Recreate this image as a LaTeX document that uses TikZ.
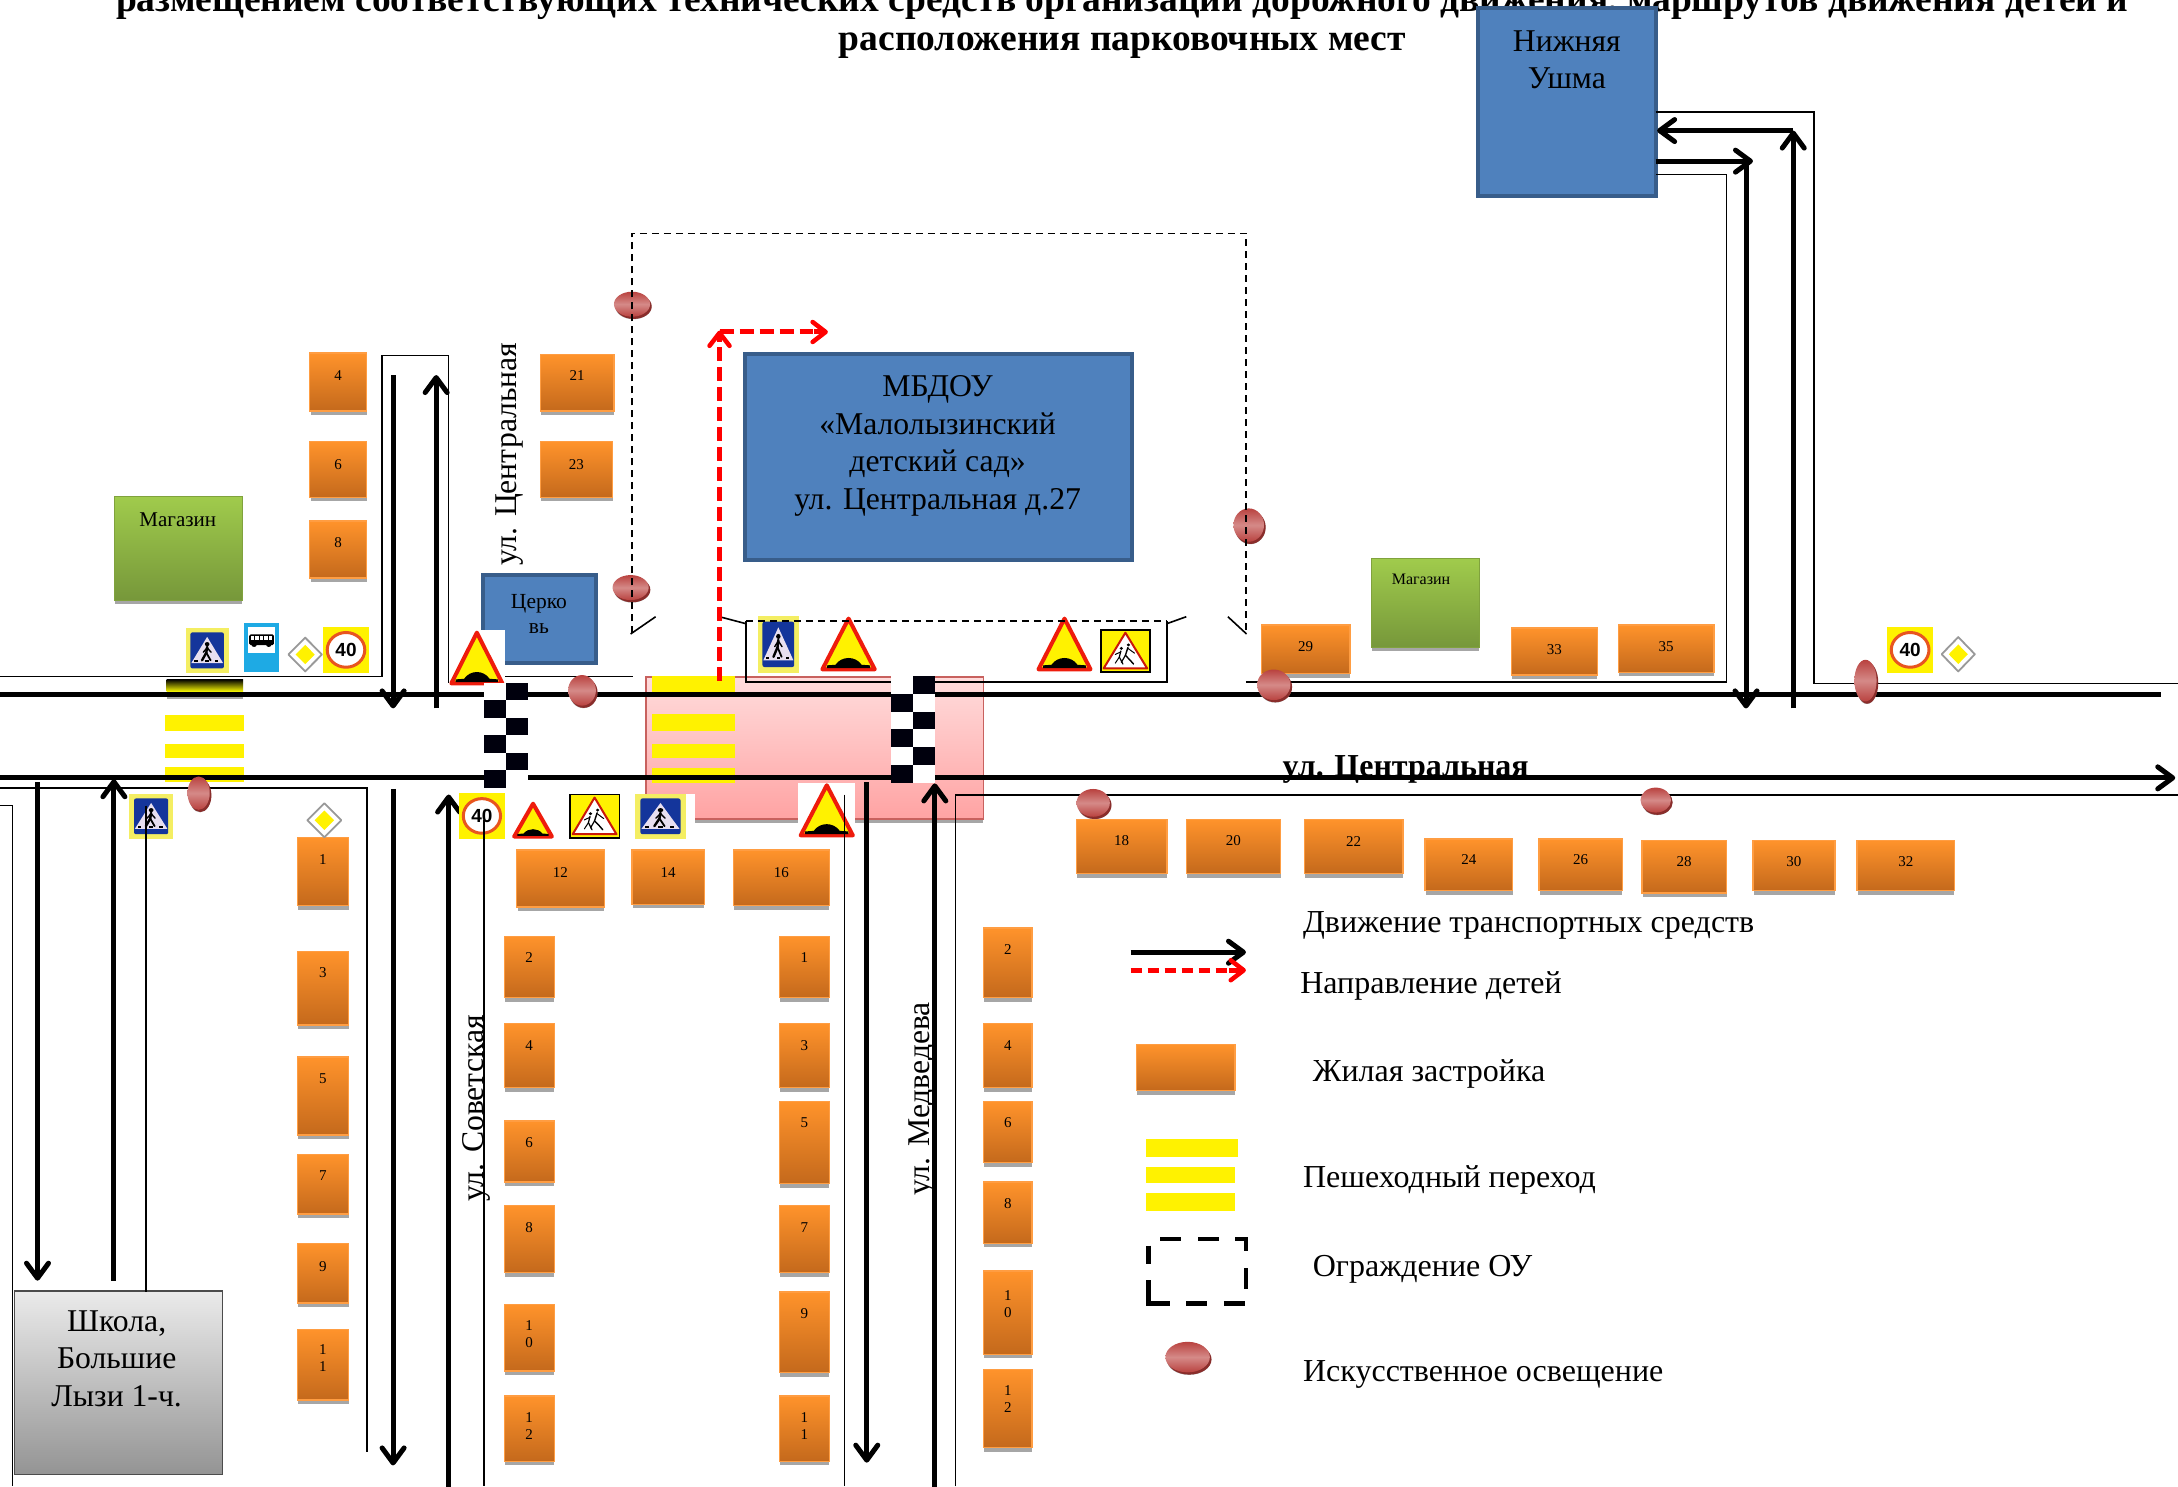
\documentclass[tikz,border=0pt]{standalone}
\usepackage{fontspec}
\setmainfont{Liberation Serif}
\newfontfamily\signfont{Liberation Sans}
\usetikzlibrary{arrows.meta}
\definecolor{hTop}{HTML}{FF932B}
\definecolor{hBot}{HTML}{C4691C}
\definecolor{hLine}{HTML}{FF9D42}
\definecolor{shadowGrey}{HTML}{A6A6A6}
\definecolor{blueFill}{HTML}{4F81BD}
\definecolor{blueEdge}{HTML}{385D8A}
\definecolor{greenTop}{HTML}{A0CB4C}
\definecolor{greenBot}{HTML}{76973A}
\definecolor{pinkTop}{HTML}{FFDCDC}
\definecolor{pinkBot}{HTML}{FFA3A3}
\definecolor{pinkEdge}{HTML}{C8615E}
\definecolor{lampA}{HTML}{B9423F}
\definecolor{lampB}{HTML}{D58A88}
\definecolor{lampC}{HTML}{8A2D2B}
\definecolor{signRed}{HTML}{EE1C0C}
\definecolor{ringRed}{HTML}{E8551F}
\definecolor{pedYellow}{HTML}{F4EE62}
\definecolor{pedBlue}{HTML}{14359B}
\definecolor{pedWhite}{HTML}{E8DFF0}
\definecolor{busBlue}{HTML}{1EAAE4}
\tikzset{
  road/.style={line width=5pt,black},
  thin road/.style={line width=1.6pt,black,line join=miter},
  travel/.style={road,-{Straight Barb[length=15pt,width=22pt,line width=5pt,round]}},
  kids/.style={line width=5pt,red,dash pattern=on 14pt off 6pt},
  kidstip/.style={line width=5pt,red,-{Straight Barb[length=13pt,width=20pt,line width=4.5pt,round]}},
  fence/.style={line width=1.6pt,black,dash pattern=on 7pt off 5pt},
  gate/.style={line width=1.6pt,black},
  housebox/.style={draw=hLine,line width=1.4pt,top color=hTop,bottom color=hBot,inner sep=0pt,outer sep=0pt},
  houselabel/.style={font=\fontsize{15}{17}\selectfont,align=center,inner sep=0pt},
  bluebox/.style={draw=blueEdge,line width=4pt,fill=blueFill,inner sep=0pt,outer sep=0pt},
  greenbox/.style={draw=greenTop!80!black,line width=1pt,top color=greenTop,bottom color=greenBot,inner sep=0pt},
  bigtext/.style={font=\fontsize{31.7}{37.5}\selectfont,align=center,inner sep=0pt},
  legendtext/.style={font=\fontsize{32}{36}\selectfont,anchor=west,inner sep=0pt},
  street/.style={font=\fontsize{31.7}{36}\selectfont,rotate=90,inner sep=0pt},
  crossbar/.style={fill=yellow,draw=none},
  speedtext/.style={font=\signfont\bfseries\fontsize{19}{19}\selectfont,inner sep=0pt},
}
\def\U{1.38903}
\newcommand\calcbox[4]{\pgfmathsetmacro\bw{(#3-#1)*\U}\pgfmathsetmacro\bh{(#4-#2)*\U}}
% name x0 y0 x1 y1 labely label
\newcommand\house[7]{%
  \calcbox{#2}{#3}{#4}{#5}%
  \fill[shadowGrey] ({#2+0.7},{#3+3}) rectangle ({#4},{#5+3});
  \node[housebox,minimum width=\bw pt,minimum height=\bh pt,anchor=north west] (#1) at (#2,#3) {};
  \node[houselabel] (#1t) at ({(#2+#4)/2},#6+0.5) {#7};
}
\newcommand\lampball[4]{%
  \fill[shadowGrey] ({#1+1},{#2+1.8}) ellipse [x radius=#3,y radius=#4];
  \fill[lampC] ({#1+1.2},{#2+1.6}) ellipse [x radius=#3,y radius=#4];
  \shade[top color=lampA,bottom color=lampA,middle color=lampB] (#1,#2) ellipse [x radius=#3,y radius=#4];
}
\newcommand\humpsign[4]{%
  \calcbox{#1}{#2}{#3}{#4}%
  \begin{scope}[shift={(#1,#2)},x=\bw pt,y=-\bh pt]
    \filldraw[fill=yellow,draw=signRed,line width=4pt,line join=round] (0.5,0.045) -- (0.96,0.94) -- (0.04,0.94) -- cycle;
    \fill[black] (0.12,0.92) -- (0.12,0.87) -- (0.27,0.86) .. controls (0.38,0.70) and (0.62,0.70) .. (0.73,0.86) -- (0.88,0.87) -- (0.88,0.92) -- cycle;
  \end{scope}
}
\newcommand\pedfigure{%
  \fill[pedWhite] (0.5,0.2) -- (0.87,0.78) -- (0.13,0.78) -- cycle;
  \fill[black] (0.5,0.36) circle [x radius=0.055,y radius=0.045];
  \draw[black,line width=2.4pt,line cap=round] (0.5,0.42) -- (0.48,0.55) -- (0.38,0.72);
  \draw[black,line width=1.8pt,line cap=round] (0.48,0.55) -- (0.58,0.72);
  \draw[black,line width=1.4pt,line cap=round] (0.5,0.44) -- (0.59,0.54);
  \draw[black,line width=1.4pt,line cap=round] (0.5,0.44) -- (0.41,0.54);
  \foreach \px in {0.24,0.5,0.72}{\fill[black] (\px-0.04,0.72) rectangle (\px+0.04,0.76);}
}
\newcommand\pedsign[4]{%
  \calcbox{#1}{#2}{#3}{#4}%
  \begin{scope}[shift={(#1,#2)},x=\bw pt,y=-\bh pt]
    \fill[pedYellow] (0,0) rectangle (1,1);
    \fill[pedBlue,rounded corners=2pt] (0.11,0.1) rectangle (0.89,0.9);
    \pedfigure
  \end{scope}
}
\newcommand\stopsign[4]{%
  \calcbox{#1}{#2}{#3}{#4}%
  \begin{scope}[shift={(#1,#2)},x=\bw pt,y=-\bh pt]
    \fill[busBlue] (0,0) rectangle (1,1);
    \fill[white] (0.13,0.08) rectangle (0.9,0.62);
    \fill[black,rounded corners=1.5pt] (0.16,0.24) rectangle (0.87,0.46);
    \foreach \wx in {0.2,0.33,0.46,0.59,0.72}{\fill[white] (\wx,0.27) rectangle (\wx+0.1,0.35);}
    \fill[black] (0.3,0.46) circle [x radius=0.07,y radius=0.035];
    \fill[black] (0.72,0.46) circle [x radius=0.07,y radius=0.035];
  \end{scope}
}
\newcommand\mainroad[4]{%
  \calcbox{#1}{#2}{#3}{#4}%
  \begin{scope}[shift={(#1,#2)},x=\bw pt,y=-\bh pt]
    \filldraw[fill=white,draw=black!40,line width=1.8pt,line join=round] (0.5,0.01) -- (0.99,0.5) -- (0.5,0.99) -- (0.01,0.5) -- cycle;
    \fill[yellow] (0.5,0.22) -- (0.78,0.5) -- (0.5,0.78) -- (0.22,0.5) -- cycle;
  \end{scope}
}
% name x0 y0 x1 y1
\newcommand\speedsign[5]{%
  \calcbox{#2}{#3}{#4}{#5}%
  \begin{scope}[shift={(#2,#3)},x=\bw pt,y=-\bh pt]
    \fill[yellow] (0,0) rectangle (1,1);
    \filldraw[fill=white,draw=ringRed,line width=3pt] (0.5,0.5) circle [x radius=0.41,y radius=0.38];
    \node[speedtext] (#1) at (0.5,0.5) {40};
  \end{scope}
}
\newcommand\childsign[4]{%
  \calcbox{#1}{#2}{#3}{#4}%
  \begin{scope}[shift={(#1,#2)},x=\bw pt,y=-\bh pt]
    \filldraw[fill=yellow,draw=black,line width=1.8pt] (0.01,0.01) rectangle (0.99,0.99);
    \filldraw[fill=white,draw=signRed!85!black,line width=2pt,line join=round] (0.5,0.08) -- (0.93,0.9) -- (0.07,0.9) -- cycle;
    \fill[black] (0.56,0.36) circle [x radius=0.035,y radius=0.035];
    \fill[black] (0.42,0.44) circle [x radius=0.035,y radius=0.035];
    \draw[black,line width=1.4pt,line cap=round] (0.55,0.42) -- (0.5,0.6) -- (0.6,0.72) -- (0.66,0.8);
    \draw[black,line width=1.2pt,line cap=round] (0.5,0.6) -- (0.42,0.76);
    \draw[black,line width=1pt,line cap=round] (0.55,0.44) -- (0.68,0.55);
    \draw[black,line width=1.2pt,line cap=round] (0.41,0.5) -- (0.38,0.64) -- (0.45,0.8);
    \draw[black,line width=1pt,line cap=round] (0.38,0.64) -- (0.3,0.78);
    \draw[black,line width=1pt,line cap=round] (0.41,0.52) -- (0.3,0.58);
  \end{scope}
}
\newcommand\checker[3]{% x0 y0 cellheight
  \pgfmathsetmacro\cw{15.7}
  \fill[white] (#1,#2) rectangle ({#1+2*\cw},{#2+6*#3});
  \foreach \r in {0,2,4}{\fill[black!95!blue] ({#1+\cw},{#2+\r*#3}) rectangle ({#1+2*\cw},{#2+(\r+1)*#3});}
  \foreach \r in {1,3,5}{\fill[black!95!blue] (#1,{#2+\r*#3}) rectangle ({#1+\cw},{#2+(\r+1)*#3});}
}
\begin{document}
\begin{tikzpicture}[x=1.38903pt,y=-1.38903pt]
\useasboundingbox (0,0) rectangle (1568,1069.83);
\clip (0,0) rectangle (1568,1069.83);
\fill[white] (0,0) rectangle (1568,1069.83);

% title
\node[font=\bfseries\fontsize{37.5}{37.5}\selectfont,inner sep=0pt,anchor=base] (title1) at (808,8.5) {размещением соответствующих технических средств организации дорожного движения, маршрутов движения детей и};
\node[font=\bfseries\fontsize{37.5}{37.5}\selectfont,inner sep=0pt,anchor=base] (title2) at (808,36.5) {расположения парковочных мест};

% pink zone
\fill[shadowGrey] (465.5,489) rectangle (708,592.5);
\shade[top color=pinkTop,bottom color=pinkBot,draw=pinkEdge,line width=1.4pt] (465,487.5) rectangle (708,589.5);

% crossings
\shade[top color=black,bottom color=yellow] (120,489) rectangle (175,498);
\fill[shadowGrey] (120,498) rectangle (175,503);
\fill[crossbar] (118.8,514.5) rectangle (175.8,526);
\fill[crossbar] (118.8,535.4) rectangle (175.8,546);
\fill[crossbar] (118.8,552) rectangle (175.8,563);
\fill[crossbar] (469.3,487) rectangle (529,498.7);
\fill[crossbar] (469.3,514) rectangle (529,526);
\fill[crossbar] (469.3,535.4) rectangle (529,546);
\fill[crossbar] (469.3,552.7) rectangle (529,563.5);

% buildings
\calcbox{348}{414}{429}{477}
\node[bluebox,minimum width=\bw pt,minimum height=\bh pt,anchor=north west] (church) at (348,414) {};
\node[font=\fontsize{21.5}{25}\selectfont,align=center,inner sep=0pt] (churcht) at (388,442) {Церко\\вь};
\calcbox{536}{255}{815}{403}
\node[bluebox,minimum width=\bw pt,minimum height=\bh pt,anchor=north west] (school27) at (536,255) {};
\node[bigtext] (school27t) at (675,321) {МБДОУ\\«Малолызинский\\детский сад»\\ул. Центральная д.27};
\calcbox{1064}{6}{1192}{141}
\node[bluebox,minimum width=\bw pt,minimum height=\bh pt,anchor=north west] (ushma) at (1064,6) {};
\node[bigtext] (ushmat) at (1128,43) {Нижняя\\Ушма};
\fill[shadowGrey] (82.5,360) rectangle (174,435);
\calcbox{82}{357}{174}{432}
\node[greenbox,minimum width=\bw pt,minimum height=\bh pt,anchor=north west] (shop1) at (82,357) {};
\node[font=\fontsize{21}{23}\selectfont,inner sep=0pt] (shop1t) at (128,374) {Магазин};
\fill[shadowGrey] (987.5,405) rectangle (1065,469);
\calcbox{987}{402}{1065}{466}
\node[greenbox,minimum width=\bw pt,minimum height=\bh pt,anchor=north west] (shop2) at (987,402) {};
\node[font=\fontsize{16}{18}\selectfont,inner sep=0pt] (shop2t) at (1023,417) {Магазин};
\calcbox{10}{929}{160}{1061}
\node[draw=black!70,line width=1.2pt,top color=black!8,bottom color=black!42,minimum width=\bw pt,minimum height=\bh pt,anchor=north west,inner sep=0pt] (school) at (10,929) {};
\node[bigtext] (schoolt) at (84,978) {Школа,\\Большие\\Лызи 1-ч.};

% thin road edges
\draw[thin road] (0,487) -- (275,487) -- (275,256) -- (323,256) -- (323,492);
\draw[thin road] (323,487) -- (456,487);
\draw[thin road] (537,447) -- (537,491) -- (840,491) -- (840,447);
\draw[thin road] (897,491) -- (1243,491) -- (1243,125.5) -- (1192,125.5);
\draw[thin road] (1192,80.5) -- (1306,80.5) -- (1306,492) -- (1568,492);
\draw[thin road] (0,567.5) -- (264,567.5) -- (264,1045);
\draw[thin road] (0,580) -- (9,580) -- (9,1070);
\draw[thin road] (688,1070) -- (688,572.5) -- (1568,572.5);

% main roads
\node[font=\bfseries\fontsize{32}{36}\selectfont,inner sep=0pt] (mainstreet) at (1012,554) {ул. Центральная};
\draw[road] (0,500) -- (1556,500);
\draw[travel] (0,560) -- (1566,560);

% traffic arrows
\draw[travel] (283,270) -- (283,510);
\draw[travel] (314,510) -- (314,270);
\draw[travel] (27,563) -- (27,922);
\draw[travel] (82,922) -- (82,561);
\draw[travel] (283,568) -- (283,1055);
\draw[travel] (323,1072) -- (323,572);
\draw[travel] (624,563) -- (624,1053);
\draw[travel] (673,1072) -- (673,564);
\coordinate (ushmaIn) at (1193,94);
\coordinate (ushmaOut) at (1192,116);
\draw[travel] (ushmaOut) -- (1262,116);
\draw[travel] (1257,116) -- (1257,510);
\draw[travel] (1291,510) -- (1291,94);
\draw[travel] (1291,94) -- (ushmaIn);

% houses
\house{a4}{223}{254}{264}{296}{270}{4}
\house{a6}{223}{318}{264}{358}{334}{6}
\house{a8}{223}{375}{264}{416}{390}{8}
\house{a21}{389}{255}{442}{296}{270}{21}
\house{a23}{389}{318}{441}{358}{334}{23}
\house{a29}{908}{450}{972}{485}{465}{29}
\house{a33}{1088}{452}{1150}{486}{467}{33}
\house{a35}{1165}{450}{1234}{484}{465}{35}
\house{b18}{775}{590}{840}{629}{605}{18}
\house{b20}{854}{590}{922}{629}{605}{20}
\house{b22}{939}{590}{1010}{629}{605}{22}
\house{b24}{1026}{604}{1089}{641}{618}{24}
\house{b26}{1108}{604}{1168}{641}{618}{26}
\house{b28}{1182}{605}{1243}{643}{620}{28}
\house{b30}{1262}{605}{1321}{641}{620}{30}
\house{b32}{1337}{605}{1407}{641}{620}{32}
\house{b12}{372}{612}{435}{653}{628}{12}
\house{b14}{455}{612}{507}{651}{628}{14}
\house{b16}{528}{612}{597}{652}{628}{16}
\house{c1}{214}{603}{251}{652}{618}{1}
\house{c3}{214}{685}{251}{738}{700}{3}
\house{c5}{214}{761}{251}{817}{776}{5}
\house{c7}{214}{831}{251}{874}{846}{7}
\house{c9}{214}{895}{251}{938}{911}{9}
\house{c11}{214}{957}{251}{1008}{977}{1\\1}
\house{d2}{363}{674}{399}{718}{689}{2}
\house{d4}{363}{737}{399}{783}{752}{4}
\house{d6}{363}{807}{399}{851}{822}{6}
\house{d8}{363}{868}{399}{916}{883}{8}
\house{d10}{363}{939}{399}{987}{960}{1\\0}
\house{d12}{363}{1005}{399}{1052}{1026}{1\\2}
\house{e1}{561}{674}{597}{718}{689}{1}
\house{e3}{561}{737}{597}{783}{752}{3}
\house{e5}{561}{793}{597}{852}{808}{5}
\house{e7}{561}{868}{597}{916}{883}{7}
\house{e9}{561}{930}{597}{988}{945}{9}
\house{e11}{561}{1005}{597}{1052}{1026}{1\\1}
\house{f2}{708}{668}{743}{718}{683}{2}
\house{f4}{708}{737}{743}{783}{752}{4}
\house{f6}{708}{793}{743}{837}{808}{6}
\house{f8}{708}{851}{743}{895}{866}{8}
\house{f10}{708}{915}{743}{975}{938}{1\\0}
\house{f12}{708}{986}{743}{1042}{1007}{1\\2}

% signs
\pedsign{133.7}{452}{164.6}{484.5}
\stopsign{175.4}{448.3}{200.5}{483.5}
\mainroad{207.4}{458.8}{232}{483.6}
\speedsign{sp1}{232.6}{451.4}{265.6}{484.3}
\fill[white] (323,453.6) rectangle (363.3,491.5);
\humpsign{323.3}{453.6}{363.3}{494.4}
\pedsign{93}{571.6}{124.6}{603.8}
\mainroad{221}{578}{246}{603}
\speedsign{sp2}{330.6}{571}{363.3}{603.8}
\humpsign{369}{577.4}{398.5}{603.8}
\childsign{409.7}{571.6}{446.4}{603.8}
\fill[white] (454,571.6) rectangle (500,592.5);
\pedsign{457}{571.6}{494}{603.8}
\fill[white] (574.8,563.5) rectangle (615.6,592.5);
\humpsign{574.8}{563.5}{615.6}{603.8}
\pedsign{545.7}{443.5}{575}{484.3}
\humpsign{590.4}{443.5}{631.4}{484.3}
\humpsign{746}{443.5}{786.7}{484.3}
\childsign{792}{453}{828.4}{484.3}
\speedsign{sp3}{1358.6}{451.4}{1391.7}{484.3}
\mainroad{1397.6}{458.4}{1422}{483.6}

% edges running over the signs
\draw[thin road] (105,580) -- (105,930);
\draw[thin road] (348.5,590) -- (348.5,1070);
\draw[thin road] (608,572) -- (608,1070);

% checkers
\checker{348.6}{491.5}{12.6}
\checker{641.5}{486.7}{12.8}

% lamps
\lampball{455}{219}{13}{9}
\lampball{454}{423}{13}{9}
\lampball{899}{378}{11}{12}
\lampball{419}{497}{10}{11}
\lampball{917}{493}{12}{11}
\lampball{143}{571}{8}{12}
\lampball{1343}{490}{8}{15}
\lampball{787}{578}{12}{10}
\lampball{1192}{576}{11}{9}
\lampball{855}{977}{16}{11}

% fence
\draw[fence] (455,456) -- (455,168) -- (897,168) -- (897,456);
\draw[fence] (537,447) -- (840,447);
\draw[gate] (454,456.4) -- (472,444);
\draw[gate] (897.4,456.4) -- (884,444);
\draw[gate] (537,449) -- (518,444);
\draw[gate] (840,449) -- (854,444);

% children's route
\draw[kids] (518,490) -- (518,245);
\draw[kidstip] (518,246) -- (518,238);
\draw[kids] (518,239) -- (585,239);
\draw[kidstip] (586,239) -- (596,239);

% street names
\node[street] (s1) at (367,327) {ул. Центральная};
\node[street] (s2) at (343,798) {ул. Советская};
\node[street] (s3) at (664,791) {ул. Медведева};

% legend
\coordinate (l1a) at (814,685.5);
\coordinate (l1b) at (897,685.5);
\coordinate (l2a) at (814,698.5);
\coordinate (l2b) at (885,698.5);
\coordinate (l2c) at (897,698.5);
\draw[travel] (l1a) -- (l1b);
\draw[kids,dash pattern=on 11pt off 6pt] (l2a) -- (l2b);
\draw[kidstip] (l2b) -- (l2c);
\fill[shadowGrey] (818.5,755) rectangle (889,788.5);
\calcbox{818}{752}{889}{785}
\node[housebox,minimum width=\bw pt,minimum height=\bh pt,anchor=north west] (lhouse) at (818,752) {};
\fill[crossbar] (825,820) rectangle (891,833);
\fill[crossbar] (825,840) rectangle (889,852);
\fill[crossbar] (825,859) rectangle (889,872);
\draw[line width=4.5pt,line join=miter] (827,921.5) -- (827,938.5) -- (842,938.5)
  (854,938.5) -- (869,938.5) (881,938.5) -- (896,938.5)
  (897,927.7) -- (897,912.9) (897,900.4) -- (897,892) -- (889,892)
  (877.6,892) -- (862.7,892) (850,892) -- (835,892) (827,896.7) -- (827,910.3);
\node[legendtext] (t1) at (938,666.5) {Движение транспортных средств};
\node[legendtext] (t2) at (936,709.5) {Направление детей};
\node[legendtext] (t3) at (945,773.5) {Жилая застройка};
\node[legendtext] (t4) at (938,849.5) {Пешеходный переход};
\node[legendtext] (t5) at (945,913.5) {Ограждение ОУ};
\node[legendtext] (t6) at (938,989.5) {Искусственное освещение};
\end{tikzpicture}
\end{document}
